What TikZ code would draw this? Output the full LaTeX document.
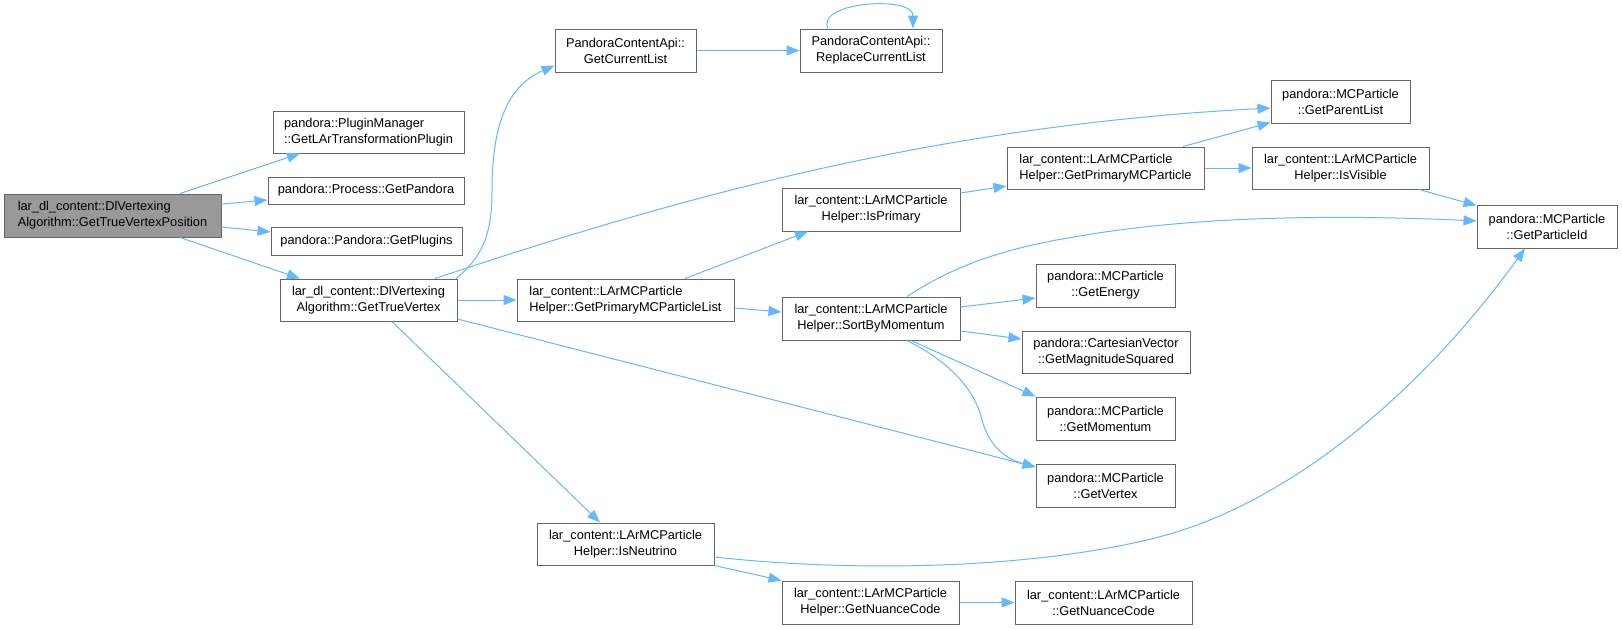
\documentclass[tikz,border=0pt]{standalone}
\usepackage{fontspec}
\setmainfont{Liberation Sans}
\usetikzlibrary{arrows.meta}
\definecolor{callblue}{HTML}{63B8FF}
\definecolor{boxline}{HTML}{666666}
\definecolor{rootgrey}{HTML}{999999}
\tikzset{
	fn/.style={draw=boxline, line width=1pt, fill=white, inner sep=0pt, align=center, font=\fontsize{12.8}{16}\selectfont},
	call/.style={draw=callblue, line width=1pt, -{Triangle[length=13pt,width=10pt]}}
}

\begin{document}
\begin{tikzpicture}[x=1pt, y=-1pt]
		%%%%% START %%%%%
		\useasboundingbox (0,0) rectangle (1622,629);
		
		\node[fn, fill=rootgrey, align=left, minimum width=217pt, minimum height=43pt] (root) at (112.5,215.5) {lar\_dl\_content::DlVertexing\\Algorithm::GetTrueVertexPosition};
		
		\node[fn, align=left, minimum width=191pt, minimum height=42pt] (plugmgr) at (368.5,132) {pandora::PluginManager\\::GetLArTransformationPlugin};
		\node[fn, minimum width=196pt, minimum height=27pt] (getpandora) at (366,190.5) {pandora::Process::GetPandora};
		\node[fn, minimum width=191pt, minimum height=28pt] (getplugins) at (366.5,241) {pandora::Pandora::GetPlugins};
		\node[fn, minimum width=177pt, minimum height=42pt] (truevtx) at (368.5,300) {lar\_dl\_content::DlVertexing\\Algorithm::GetTrueVertex};
		
		\node[fn, minimum width=141pt, minimum height=43pt] (curlist) at (625.5,50.5) {PandoraContentApi::\\GetCurrentList};
		\node[fn, align=left, minimum width=217pt, minimum height=42pt] (pmclist) at (625.5,300) {lar\_content::LArMCParticle\\Helper::GetPrimaryMCParticleList};
		\node[fn, minimum width=177pt, minimum height=42pt] (isneutrino) at (625.5,544) {lar\_content::LArMCParticle\\Helper::IsNeutrino};
		
		\node[fn, minimum width=142pt, minimum height=43pt] (replist) at (871,50.5) {PandoraContentApi::\\ReplaceCurrentList};
		\node[fn, minimum width=178pt, minimum height=43pt] (isprimary) at (871,209.5) {lar\_content::LArMCParticle\\Helper::IsPrimary};
		\node[fn, minimum width=178pt, minimum height=43pt] (sortmom) at (871,318.5) {lar\_content::LArMCParticle\\Helper::SortByMomentum};
		\node[fn, minimum width=177pt, minimum height=43pt] (helpnuance) at (870.5,602.5) {lar\_content::LArMCParticle\\Helper::GetNuanceCode};
		
		\node[fn, align=left, minimum width=197pt, minimum height=42pt] (primmc) at (1105.5,168) {lar\_content::LArMCParticle\\Helper::GetPrimaryMCParticle};
		\node[fn, minimum width=139pt, minimum height=43pt] (energy) at (1105.5,285.5) {pandora::MCParticle\\::GetEnergy};
		\node[fn, minimum width=168pt, minimum height=42pt] (magsq) at (1106,352) {pandora::CartesianVector\\::GetMagnitudeSquared};
		\node[fn, minimum width=139pt, minimum height=43pt] (momentum) at (1105.5,418.5) {pandora::MCParticle\\::GetMomentum};
		\node[fn, minimum width=139pt, minimum height=43pt] (vertex) at (1105.5,485.5) {pandora::MCParticle\\::GetVertex};
		\node[fn, minimum width=177pt, minimum height=43pt] (partnuance) at (1103.5,602.5) {lar\_content::LArMCParticle\\::GetNuanceCode};
		
		\node[fn, minimum width=139pt, minimum height=43pt] (parentlist) at (1340.5,101.5) {pandora::MCParticle\\::GetParentList};
		\node[fn, minimum width=177pt, minimum height=42pt] (isvisible) at (1340.5,168) {lar\_content::LArMCParticle\\Helper::IsVisible};
		\node[fn, minimum width=140pt, minimum height=43pt] (particleid) at (1547,226.5) {pandora::MCParticle\\::GetParticleId};
		
		% calls out of the root
		\draw[call] ([xshift=67.5pt]root.north) -- ([xshift=-68.5pt]plugmgr.south);
		\draw[call] ([yshift=11.5pt]root.east) -- ([yshift=-9.5pt]getpandora.west);
		\draw[call] ([yshift=-11.5pt]root.east) -- ([yshift=9pt]getplugins.west);
		\draw[call] ([xshift=67.5pt]root.south) -- ([xshift=-68.5pt]truevtx.north);
		
		\draw[call] ([xshift=87.5pt]truevtx.north) .. controls (485,255) and (492,230) .. (492,190) .. controls (492,120) and (510,85) .. ([yshift=-15pt]curlist.west);
		\draw[call] (curlist.east) -- (replist.west);
		\draw[call] ([xshift=-43pt]replist.north) .. controls (815,2) and (913,-5) .. ([xshift=42pt]replist.north);
		\draw[call] ([xshift=66.5pt]truevtx.north) .. controls (700,190) and (950,125) .. ([yshift=-6.5pt]parentlist.west);
		\draw[call] (truevtx.east) -- (pmclist.west);
		\draw[call] ([yshift=-19pt]truevtx.east) -- ([yshift=18.5pt]vertex.west);
		\draw[call] ([xshift=23.5pt]truevtx.south) -- ([xshift=-25.5pt]isneutrino.north);
		
		\draw[call] ([xshift=59.5pt]pmclist.north) -- ([xshift=-63pt]isprimary.south);
		\draw[call] ([yshift=-8pt]pmclist.east) -- ([yshift=6.5pt]sortmom.west);
		\draw[call] ([yshift=16.5pt]isprimary.east) -- ([yshift=-18pt]primmc.west);
		\draw[call] ([xshift=77.5pt]primmc.north) -- ([yshift=1pt]parentlist.south west);
		\draw[call] (primmc.east) -- (isvisible.west);
		\draw[call] ([xshift=78.5pt]isvisible.south) -- ([yshift=-1pt]particleid.north west);
		
		\draw[call] ([xshift=36pt]sortmom.north) .. controls (945,272) and (990,250) .. (1080,236) .. controls (1200,215) and (1350,215) .. ([yshift=5.5pt]particleid.west);
		\draw[call] ([yshift=11.5pt]sortmom.east) -- ([yshift=-12.5pt]energy.west);
		\draw[call] ([yshift=-12.5pt]sortmom.east) -- ([yshift=13pt]magsq.west);
		\draw[call] ([xshift=40pt]sortmom.south) -- (momentum.north west);
		\draw[call] ([xshift=36pt]sortmom.south) .. controls (950,362) and (975,390) .. (982,420) .. controls (990,450) and (1010,460) .. ([yshift=18.5pt]vertex.west);
		
		\draw[call] ([yshift=-13pt]isneutrino.east) .. controls (850,572) and (1030,570) .. (1159,537) .. controls (1300,500) and (1430,380) .. ([xshift=-22pt]particleid.south);
		\draw[call] (isneutrino.south east) -- (helpnuance.north west);
		\draw[call] (helpnuance.east) -- (partnuance.west);
		%%%%% END %%%%%
\end{tikzpicture}
\end{document}
